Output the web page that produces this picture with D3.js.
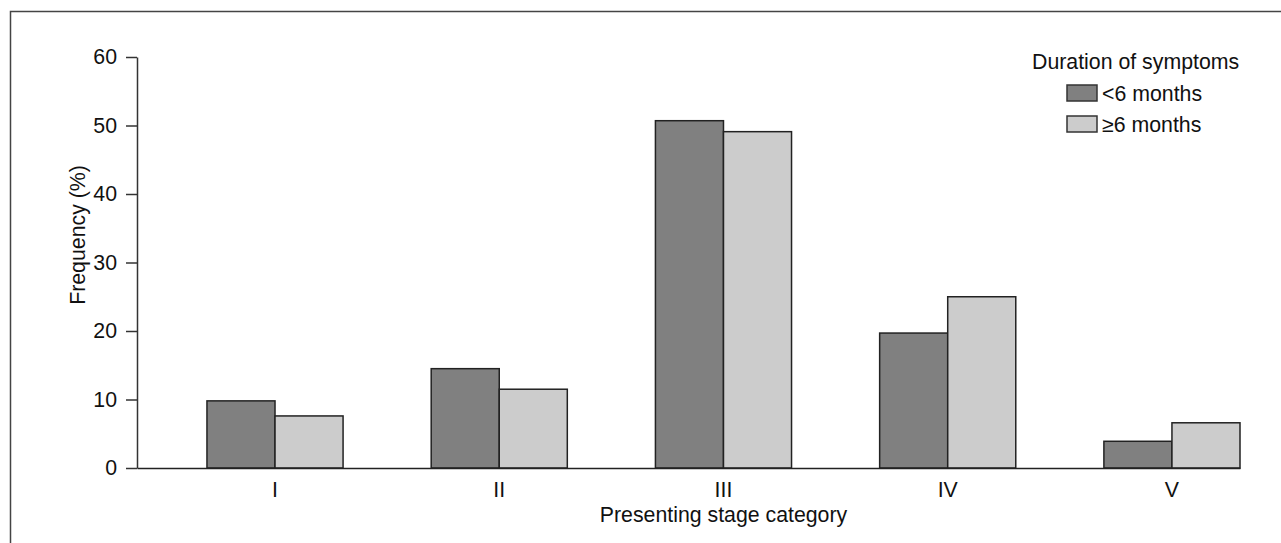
<!DOCTYPE html>
<html>
<head>
<meta charset="utf-8">
<script src="https://cdn.jsdelivr.net/npm/d3@7"></script>
<style>
  body { margin: 0; background: #fff; }
  text { font-family: "Liberation Sans", Arial, sans-serif; fill: #111; }
</style>
</head>
<body>
<div id="chart"></div>
<script>
var categories = ["I", "II", "III", "IV", "V"];
var seriesNames = ["<6 months", "\u22656 months"];
var shortDuration = [9.8, 14.5, 50.7, 19.7, 3.9];
var longDuration = [7.6, 11.5, 49.1, 25.0, 6.6];
var yTicks = [0, 10, 20, 30, 40, 50, 60];
var colors = ["#808080", "#cccccc"];

var width = 1281, height = 543;
var svg = d3.select("#chart")
  .append("svg")
    .attr("width", width)
    .attr("height", height);

// outer frame (runs off the right and bottom edge)
svg.append("rect")
  .attr("x", 10.5).attr("y", 11.5)
  .attr("width", 1300).attr("height", 600)
  .attr("fill", "none")
  .attr("stroke", "#444")
  .attr("stroke-width", 1.5);

var plotLeft = 137, plotRight = 1240, plotTop = 57, plotBottom = 468;

var x = d3.scaleBand()
  .domain(categories)
  .range([plotLeft, plotRight])
  .paddingInner(0.393)
  .paddingOuter(0.156)
  .align(1);

var xSub = d3.scaleBand()
  .domain([0, 1])
  .range([0, x.bandwidth()]);

var y = d3.scaleLinear()
  .domain([0, 60])
  .range([plotBottom, plotTop]);

var fs = "21.3px";

// bars
var rows = categories.map(function (c, i) {
  return { cat: c, vals: [shortDuration[i], longDuration[i]] };
});
var groups = svg.append("g")
  .selectAll("g")
  .data(rows)
  .enter()
  .append("g")
    .attr("transform", function (d) { return "translate(" + x(d.cat) + ",0)"; });
groups.selectAll("rect")
  .data(function (d) { return d.vals.map(function (v, k) { return { v: v, k: k }; }); })
  .enter()
  .append("rect")
    .attr("x", function (d) { return xSub(d.k); })
    .attr("y", function (d) { return y(d.v); })
    .attr("width", xSub.bandwidth())
    .attr("height", function (d) { return y(0) - y(d.v); })
    .attr("fill", function (d) { return colors[d.k]; })
    .attr("stroke", "#222")
    .attr("stroke-width", 1.5);

// Y axis
var yAxis = svg.append("g")
  .attr("transform", "translate(" + plotLeft + ",0)")
  .call(d3.axisLeft(y).tickValues(yTicks).tickSize(11).tickPadding(9).tickSizeOuter(0));
yAxis.select(".domain").attr("stroke", "#333").attr("stroke-width", 1.5);
yAxis.selectAll(".tick line").attr("stroke", "#333").attr("stroke-width", 1.5);
yAxis.selectAll(".tick text")
  .style("font-size", fs)
  .style("font-family", "Liberation Sans, Arial, sans-serif")
  .attr("fill", "#111");

// X axis
var xAxis = svg.append("g")
  .attr("transform", "translate(0," + plotBottom + ")")
  .call(d3.axisBottom(x).tickSize(0).tickPadding(14).tickSizeOuter(0));
xAxis.select(".domain").attr("stroke", "#222").attr("stroke-width", 1.5);
xAxis.selectAll(".tick text")
  .style("font-size", fs)
  .style("font-family", "Liberation Sans, Arial, sans-serif")
  .attr("fill", "#111");

// axis titles
svg.append("text")
  .attr("x", x("III") + x.bandwidth() / 2)
  .attr("y", 522)
  .attr("text-anchor", "middle")
  .style("font-size", fs)
  .text("Presenting stage category");

svg.append("text")
  .attr("transform", "translate(85,235) rotate(-90)")
  .attr("text-anchor", "middle")
  .style("font-size", fs)
  .text("Frequency (%)");

// legend
var legend = svg.append("g");
legend.append("text")
  .attr("x", 1032).attr("y", 69)
  .style("font-size", fs)
  .text("Duration of symptoms");
var items = legend.selectAll(".item")
  .data(seriesNames)
  .enter()
  .append("g")
    .attr("class", "item")
    .attr("transform", function (d, i) { return "translate(1067," + (85 + i * 31) + ")"; });
items.append("rect")
  .attr("width", 30).attr("height", 16)
  .attr("fill", function (d, i) { return colors[i]; })
  .attr("stroke", "#333")
  .attr("stroke-width", 1.5);
items.append("text")
  .attr("x", 35).attr("y", 16)
  .style("font-size", fs)
  .text(function (d) { return d; });
</script>
</body>
</html>
